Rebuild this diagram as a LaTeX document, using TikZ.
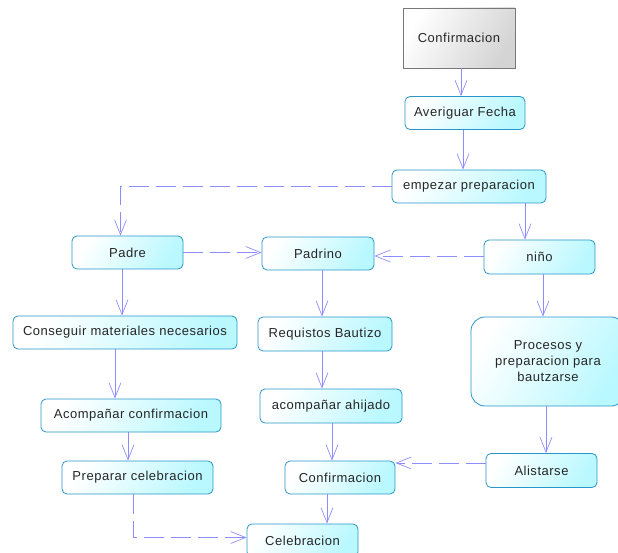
\documentclass[tikz,border=0pt]{standalone}
\usepackage{fontspec}
\setmainfont[LetterSpace=4]{Liberation Sans}
\usetikzlibrary{arrows.meta,calc}
\definecolor{boxline}{RGB}{40,150,200}
\definecolor{boxfill}{RGB}{185,248,255}
\definecolor{conn}{RGB}{140,140,255}
\definecolor{grayline}{RGB}{120,120,120}
\definecolor{grayfill}{RGB}{212,212,212}
\tikzset{
  act/.style={draw=boxline, line width=0.8pt, rounded corners=5pt, left color=white, right color=boxfill, shading angle=60, minimum height=33pt, inner sep=2pt, font=\fontsize{13}{14}\selectfont, text=black!85},
  startbox/.style={draw=grayline, line width=0.8pt, left color=white, right color=grayfill, shading angle=60, minimum width=112pt, minimum height=60pt, font=\fontsize{13}{14}\selectfont, text=black!85},
  link/.style={draw=conn, line width=0.7pt, -{Straight Barb[length=15pt,width=12pt,line width=0.7pt]}},
  dlink/.style={link, dash pattern=on 20pt off 7pt},
}
\begin{document}
\begin{tikzpicture}[x=1pt,y=-1pt]
\useasboundingbox (0,0) rectangle (618,553);
\node[startbox] (conf0) at (459,38) {Confirmacion};
\node[act, minimum width=120pt] (aver) at (465,113) {Averiguar Fecha};
\node[act, minimum width=154pt] (emp) at (469,186.5) {empezar preparacion};
\node[act, minimum width=111pt] (padre) at (127.5,252.5) {Padre};
\node[act, minimum width=112pt] (padrino) at (318,253.5) {Padrino};
\node[act, minimum width=111pt, minimum height=34pt] (nino) at (539.5,257) {niño};
\node[act, minimum width=224pt] (consg) at (125,332.5) {Conseguir materiales necesarios};
\node[act, minimum width=134pt, minimum height=34pt] (req) at (325,334) {Requistos Bautizo};
\node[act, minimum width=154pt, minimum height=89pt, rounded corners=14pt, align=center, font=\fontsize{13}{16}\selectfont] (proc) at (548,361.5) {Procesos y\\preparacion para\\bautzarse};
\node[act, minimum width=142pt, minimum height=34pt] (ahij) at (331,406) {acompañar ahijado};
\node[act, minimum width=180pt] (acomp) at (131,415.5) {Acompañar confirmacion};
\node[act, minimum width=151pt] (prep) at (137.5,477.5) {Preparar celebracion};
\node[act, minimum width=111pt, minimum height=34pt] (alist) at (541.5,470.5) {Alistarse};
\node[act, minimum width=110pt] (conf2) at (340,477.5) {Confirmacion};
\node[act, minimum width=111pt] (celeb) at (302.5,540.5) {Celebracion};

\draw[link] ([xshift=2]conf0.south) -- ([xshift=2]conf0.south |- aver.north);
\draw[link] ([xshift=-2]aver.south) -- ([xshift=-2]aver.south |- emp.north);
\draw[dlink] (emp.west) -| ([xshift=-7]padre.north);
\draw[link] ([xshift=56]emp.south) -- ([xshift=56]emp.south |- nino.north);
\draw[dlink] (padre.east) -- (padre.east -| padrino.west);
\draw[dlink] ([yshift=1]nino.west) -- ([yshift=1]nino.west -| padrino.east);
\draw[link] ([xshift=-5.5]padre.south) -- ([xshift=-5.5]padre.south |- consg.north);
\draw[link] ([xshift=4]padrino.south) -- ([xshift=4]padrino.south |- req.north);
\draw[link] ([xshift=3.5]nino.south) -- ([xshift=3.5]nino.south |- proc.north);
\draw[link] ([xshift=-10]consg.south) -- ([xshift=-10]consg.south |- acomp.north);
\draw[link] ([xshift=-3]acomp.south) -- ([xshift=-3]acomp.south |- prep.north);
\draw[link] ([xshift=-3]req.south) -- ([xshift=-3]req.south |- ahij.north);
\draw[link] ([xshift=1]ahij.south) -- ([xshift=1]ahij.south |- conf2.north);
\draw[link] ([xshift=-2]proc.south) -- ([xshift=-2]proc.south |- alist.north);
\draw[dlink] ([yshift=7.5]alist.west) -- ([yshift=7.5]alist.west -| conf2.east);
\draw[link] ([xshift=-13]conf2.south) -- ([xshift=-13]conf2.south |- celeb.north);
\draw[dlink] ([xshift=-4.5]prep.south) |- ([yshift=3]celeb.west);
\end{tikzpicture}
\end{document}
